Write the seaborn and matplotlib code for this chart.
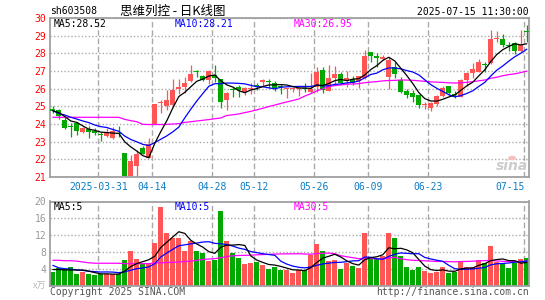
import numpy as np
import pandas as pd
import seaborn as sns
import matplotlib.pyplot as plt
from matplotlib.patches import Circle

# daily candles, 2025-03-19 .. 2025-07-15 (80 trading days)
open_p = [24.83, 24.79, 24.23, 23.87, 24.04, 23.53, 23.70, 23.62, 23.39, 23.34,
          23.23, 23.50, 22.38, 21.07, 21.62, 22.62, 22.10, 24.00, 25.20, 25.02,
          25.09, 26.00, 26.09, 26.45, 26.98, 26.70, 26.47, 26.79, 26.57, 25.34,
          25.94, 26.09, 25.79, 25.96, 26.20, 26.36, 26.43, 26.32, 26.15, 25.98,
          25.98, 25.99, 26.05, 25.80, 26.11, 27.06, 25.87, 26.62, 26.81, 26.43,
          26.53, 26.43, 26.58, 28.06, 27.87, 27.66, 26.68, 27.25, 26.49, 25.89,
          25.74, 25.64, 25.06, 24.92, 25.11, 25.60, 26.15, 25.68, 25.55, 26.49,
          26.90, 26.96, 27.40, 27.43, 28.83, 28.81, 28.45, 28.57, 28.13, 29.26]
high_p = [25.00, 24.85, 24.40, 24.04, 24.13, 23.81, 23.89, 23.75, 23.57, 23.75,
          23.81, 23.89, 22.38, 22.25, 22.55, 22.75, 23.23, 25.15, 25.38, 25.90,
          26.57, 26.57, 26.68, 27.36, 27.08, 26.80, 27.04, 27.32, 26.57, 25.79,
          26.10, 26.23, 26.10, 26.30, 26.34, 26.55, 26.53, 26.43, 26.25, 26.05,
          26.10, 26.06, 26.30, 26.87, 27.25, 27.25, 27.34, 27.30, 26.96, 27.00,
          26.72, 26.72, 28.19, 28.06, 28.00, 27.90, 27.81, 27.53, 26.68, 25.98,
          25.92, 25.64, 25.26, 25.23, 25.64, 26.15, 26.17, 25.87, 26.53, 26.92,
          27.43, 27.66, 27.53, 29.32, 29.26, 29.08, 28.66, 28.62, 29.32, 29.60]
low_p = [24.60, 24.30, 23.72, 23.28, 23.40, 23.47, 23.23, 23.38, 23.04, 23.28,
         23.15, 23.28, 21.02, 21.00, 20.97, 22.28, 22.06, 23.98, 24.60, 24.79,
         24.98, 25.72, 25.75, 26.40, 26.66, 26.42, 26.28, 26.40, 24.90, 24.81,
         25.55, 25.53, 25.66, 25.70, 25.94, 26.17, 26.06, 25.85, 25.70, 25.50,
         25.80, 25.60, 25.80, 25.74, 25.80, 25.74, 25.85, 26.20, 26.30, 26.11,
         26.20, 26.06, 26.55, 27.53, 27.25, 27.62, 26.00, 26.58, 25.74, 25.45,
         25.23, 24.92, 24.85, 24.74, 25.04, 25.55, 25.64, 25.45, 25.55, 26.17,
         26.58, 26.92, 26.92, 27.40, 28.66, 28.38, 28.13, 27.94, 28.09, 28.66]
close_p = [24.75, 24.45, 23.80, 23.85, 23.60, 23.75, 23.53, 23.47, 23.36, 23.47,
           23.60, 23.45, 21.06, 21.93, 22.30, 22.30, 22.87, 25.13, 25.26, 25.37,
           25.91, 26.10, 26.32, 26.85, 26.92, 26.51, 26.98, 26.60, 25.23, 25.75,
           25.90, 25.94, 26.04, 26.00, 26.15, 26.47, 26.40, 26.04, 26.10, 26.02,
           26.04, 26.02, 26.00, 26.00, 26.96, 25.92, 26.58, 26.81, 26.34, 26.62,
           26.34, 26.72, 27.87, 27.87, 27.72, 27.81, 27.62, 26.81, 25.83, 25.64,
           25.55, 25.08, 25.08, 25.17, 25.60, 26.06, 25.74, 25.64, 26.49, 26.87,
           27.09, 27.53, 27.36, 28.81, 28.87, 28.47, 28.43, 28.13, 28.47, 29.20]
# volume, 10k shares
volume = [3.2, 4.1, 4.0, 4.4, 2.7, 3.2, 2.7, 2.4, 2.8, 2.8,
          2.8, 2.8, 6.0, 8.2, 6.3, 5.1, 5.1, 10.1, 18.7, 12.5,
          11.4, 11.3, 8.1, 10.5, 8.1, 7.7, 5.9, 6.1, 17.8, 10.6,
          7.7, 6.5, 5.1, 5.3, 5.7, 4.9, 4.0, 4.4, 3.7, 3.7,
          2.9, 3.7, 3.7, 7.3, 9.8, 8.1, 5.9, 6.1, 4.0, 5.3,
          4.7, 4.2, 12.5, 6.5, 6.3, 7.1, 12.5, 11.3, 7.1, 4.4,
          3.7, 4.4, 3.5, 2.9, 3.3, 4.5, 2.9, 3.3, 5.7, 4.4,
          4.5, 6.1, 5.3, 9.3, 5.7, 5.2, 4.1, 5.3, 6.3, 6.5]

# moving averages at the start of the window (earlier days are off the chart)
ma5_head = [24.75, 24.64, 24.42, 24.17]
ma10_head = [24.75, 24.60, 24.51, 24.38, 24.28, 24.17, 24.08, 23.94, 23.85]
ma30_head = [24.38] * 12 + [24.26, 24.19, 24.13, 23.98, 23.97, 23.97, 23.97, 23.98,
                            24.00, 24.02, 24.09, 24.13, 24.17, 24.21, 24.25, 24.30, 24.34]
vma5_head = [3.8, 3.8, 3.7, 3.7]
vma10_head = [4.8, 4.2, 4.0, 3.9, 3.7, 3.6, 3.4, 3.3, 3.2]
vma30_head = [6.0, 6.0, 5.9, 5.9, 5.8, 5.6, 5.4, 5.3, 5.3, 5.3, 5.3, 5.3, 5.2, 5.2, 5.2,
              5.2, 5.2, 5.4, 5.4, 5.5, 5.5, 5.6, 5.7, 5.8, 6.0, 6.2, 6.3, 6.4, 6.6]

tick_idx = [8, 17, 27, 34, 44, 53, 63, 79]
tick_labels = ['2025-03-31', '04-14', '04-28', '05-12', '05-26', '06-09', '06-23', '07-15']

RED = '#ff5555'
GREEN = '#00a800'
GRID = '#aaaaaa'


def moving(values, n, head):
    m = pd.Series(values).rolling(n).mean().to_numpy()
    m[:len(head)] = head
    return m


sns.set_style('white')
plt.rcParams['font.family'] = ['DejaVu Sans Mono', 'Noto Sans CJK SC']

W, H = 545, 300
fig = plt.figure(figsize=(W / 100, H / 100), dpi=100)


def px_axes(l, t, r, b):
    return fig.add_axes([l / W, 1 - b / H, (r - l) / W, (b - t) / H])


def px_text(x, y, s, **kw):
    fig.text(x / W, 1 - y / H, s, va='center', **kw)


ax = px_axes(50, 18, 529, 177)
axv = px_axes(50, 201.5, 529, 285.5)

x = np.arange(len(close_p))
o = np.array(open_p)
c = np.array(close_p)
colors = [RED if cc >= oo else GREEN for oo, cc in zip(o, c)]
gridpos = [i - 0.42 for i in tick_idx]

for a in (ax, axv):
    a.set_xlim(-0.47, 79.37)
    for g in gridpos:
        a.axvline(g, color=GRID, lw=1, ls=(0, (4, 2)), zorder=0)
    for sp in a.spines.values():
        sp.set_color('#a0a0a0')
        sp.set_linewidth(1.3)

# price panel
ax.vlines(x, low_p, high_p, colors=colors, lw=0.9, zorder=2)
body = np.maximum(np.abs(c - o), 0.06)
ax.bar(x, body, bottom=np.minimum(o, c), width=0.83, color=colors, lw=0, zorder=3)

sns.lineplot(x=x, y=moving(close_p, 30, ma30_head), ax=ax, color='#ff00ff', lw=0.9, zorder=4)
sns.lineplot(x=x, y=moving(close_p, 10, ma10_head), ax=ax, color='#0000ff', lw=0.9, zorder=4)
sns.lineplot(x=x, y=moving(close_p, 5, ma5_head), ax=ax, color='black', lw=0.9, zorder=4)

ax.set_ylim(21, 30)
ax.set_yticks(range(21, 31))
ax.grid(axis='y', color=GRID, lw=1, ls=(0, (1, 1.5)))
ax.set_axisbelow(True)
ax.tick_params(axis='y', length=0, pad=2.5, labelsize=7, labelcolor='#ff0000')
ax.set_xticks(gridpos)
ax.set_xticklabels(tick_labels)
ax.tick_params(axis='x', length=0, pad=3.5, labelsize=7, labelcolor='#0a7cc7')
ax.get_xticklabels()[-1].set_ha('right')
ax.set_xlabel('')
ax.set_ylabel('')

# volume panel
axv.bar(x, volume, width=0.83, color=colors, lw=0, zorder=2)
sns.lineplot(x=x, y=moving(volume, 30, vma30_head), ax=axv, color='#ff00ff', lw=0.9, zorder=4)
sns.lineplot(x=x, y=moving(volume, 10, vma10_head), ax=axv, color='#0000ff', lw=0.9, zorder=4)
sns.lineplot(x=x, y=moving(volume, 5, vma5_head), ax=axv, color='black', lw=0.9, zorder=4)
axv.set_ylim(0, 20)
axv.set_yticks([4, 8, 12, 16, 20])
axv.grid(axis='y', color=GRID, lw=1, ls=(0, (1, 1.5)))
axv.set_axisbelow(True)
axv.tick_params(axis='y', length=0, pad=2.5, labelsize=7, labelcolor='#999999')
axv.set_xticks([])
axv.set_xlabel('')
axv.set_ylabel('')

# header and labels
px_text(50, 11, 'sh603508', fontsize=7, color='black')
px_text(120, 11, '思维列控 - 日K线图', fontsize=9, color='black', family=['Noto Sans CJK SC'])
px_text(529, 12, '2025-07-15 11:30:00', fontsize=7, color='black', ha='right')
px_text(54, 24, 'MA5:28.52', fontsize=7, color='black')
px_text(175, 24, 'MA10:28.21', fontsize=7, color='#0000ff')
px_text(294, 24, 'MA30:26.95', fontsize=7, color='#ff00ff')
px_text(54, 207, 'MA5:5', fontsize=7, color='black')
px_text(175, 207, 'MA10:5', fontsize=7, color='#0000ff')
px_text(294, 207, 'MA30:5', fontsize=7, color='#ff00ff')
px_text(46, 286, 'x万', fontsize=6.5, color='#bbbbbb', ha='right', family=['Noto Sans CJK SC'])
px_text(50, 292, 'Copyright 2025 SINA.COM', fontsize=7, color='#555555')
px_text(529, 292, 'http://finance.sina.com.cn', fontsize=7, color='#555555', ha='right')

# sina watermark
px_text(528, 166, 'sina', fontsize=10, color='#cccccc', ha='right', fontweight='bold',
        style='italic', family=['DejaVu Sans'])
fig.patches.append(Circle((512 / W, 1 - 158 / H), 4 / W, transform=fig.transFigure,
                          facecolor='#f6c0c0', edgecolor='none'))

fig.savefig('out.png', dpi=100)
